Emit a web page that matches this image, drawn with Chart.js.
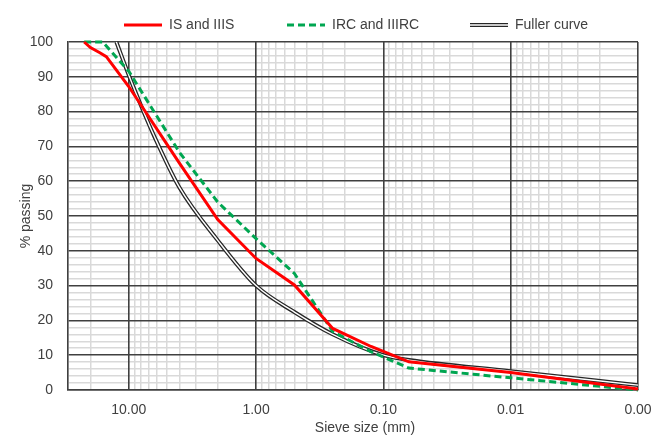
<!DOCTYPE html>
<html>
<head>
<meta charset="utf-8">
<script src="https://cdn.jsdelivr.net/npm/chart.js@4.4.1/dist/chart.umd.min.js"></script>
<style>
  html, body { margin: 0; padding: 0; background: #fff; }
  canvas { display: block; }
</style>
</head>
<body>
<canvas id="chart" width="654" height="435"></canvas>
<script>
// Sieve size (mm) vs % passing
const isSizes   = [22.4, 20, 17, 15, 10, 4, 2, 1, 0.5, 0.25, 0.125, 0.063, 0.01, 0.001];
const isPassing = [100, 98.4, 97, 95.8, 87.2, 65.2, 49, 37.8, 30.2, 17.7, 12.5, 8.1, 5, 0.3];

const ircSizes   = [22.4, 16, 10, 4, 2, 1, 0.5, 0.25, 0.125, 0.063, 0.01, 0.001];
const ircPassing = [100, 100, 91.6, 68.3, 54, 43.5, 33.5, 16.8, 11, 6.3, 3.5, 0];

const fullerSizes   = [12.5, 10, 8, 6.3, 4, 2, 1, 0.5, 0.25, 0.1, 0.063, 0.01, 0.001];
const fullerPassing = [100, 90.5, 81.7, 72.9, 58.2, 43, 30, 22.4, 16, 10, 8.6, 5.4, 1.4];

const seriesNames = ['IS and IIIS', 'IRC and IIIRC', 'Fuller curve'];

const majorTicks = [10, 1, 0.1, 0.01, 0.001];
const tickLabels = ['10.00', '1.00', '0.10', '0.01', '0.00'];
const xTitle = 'Sieve size (mm)';

const X_MIN = 0.001, X_MAX = 30;
const FONT = '"Liberation Sans", Arial, sans-serif';
const TEXT = '#404040';
const MAJOR = '#404040';
const MINOR = '#d9d9d9';

// log gridlines: 1..9 x each decade
const xTicks = [];
for (let e = -3; e <= 1; e++) {
  for (let m = 1; m <= 9; m++) {
    const v = Number((m * Math.pow(10, e)).toPrecision(3));
    if (v >= X_MIN && v <= X_MAX) xTicks.push(v);
  }
}

const isMajorX = v => majorTicks.includes(v);
const toPoints = (xs, ys) => xs.map((x, i) => ({ x, y: ys[i] }));

// legend drawn by hand so spacing matches the original
const legendSlots = [
  { x: 124, style: 'solid' },
  { x: 287, style: 'dash' },
  { x: 470, style: 'double' },
];

const legendPlugin = {
  id: 'sketchLegend',
  afterDraw(chart) {
    const ctx = chart.ctx;
    const y = 25, len = 38;
    ctx.save();
    ctx.font = '14px ' + FONT;
    ctx.fillStyle = TEXT;
    ctx.textBaseline = 'middle';
    legendSlots.forEach((slot, i) => {
      ctx.beginPath();
      ctx.moveTo(slot.x, y);
      ctx.lineTo(slot.x + len, y);
      if (slot.style === 'solid') {
        ctx.strokeStyle = '#ff0000'; ctx.lineWidth = 3; ctx.setLineDash([]);
        ctx.stroke();
      } else if (slot.style === 'dash') {
        ctx.strokeStyle = '#00a651'; ctx.lineWidth = 3; ctx.setLineDash([7, 4]);
        ctx.stroke();
      } else {
        ctx.setLineDash([]);
        ctx.strokeStyle = '#262626'; ctx.lineWidth = 4; ctx.stroke();
        ctx.strokeStyle = '#ffffff'; ctx.lineWidth = 1.4; ctx.stroke();
      }
      ctx.setLineDash([]);
      ctx.fillText(seriesNames[i], slot.x + len + 7, y);
    });
    // x title sits a little right of the plot centre in the original
    ctx.textAlign = 'center';
    ctx.fillText(xTitle, chart.chartArea.left + (chart.chartArea.right - chart.chartArea.left) / 2 + 12, 428);
    ctx.restore();
  }
};

Chart.defaults.font.family = FONT;
Chart.defaults.font.size = 14;
Chart.defaults.color = TEXT;

const logAxis = { type: 'logarithmic', reverse: true, min: X_MIN, max: X_MAX };

new Chart(document.getElementById('chart'), {
  type: 'line',
  data: {
    datasets: [
      {
        label: seriesNames[0],
        data: toPoints(isSizes, isPassing),
        borderColor: '#ff0000', borderWidth: 3,
        pointRadius: 0, fill: false, clip: false,
      },
      {
        label: seriesNames[1],
        data: toPoints(ircSizes, ircPassing),
        borderColor: '#00a651', borderWidth: 3, borderDash: [7, 4],
        pointRadius: 0, fill: false, clip: false,
      },
      {
        label: 'fuller-inner',
        data: toPoints(fullerSizes, fullerPassing),
        borderColor: '#ffffff', borderWidth: 1.4,
        cubicInterpolationMode: 'monotone',
        pointRadius: 0, fill: false, clip: false,
      },
      {
        label: seriesNames[2],
        data: toPoints(fullerSizes, fullerPassing),
        borderColor: '#262626', borderWidth: 4,
        cubicInterpolationMode: 'monotone',
        pointRadius: 0, fill: false, clip: false,
      },
    ]
  },
  options: {
    responsive: false,
    animation: false,
    layout: { padding: { top: 42, right: 16, left: 0, bottom: 0 } },
    plugins: { legend: { display: false }, tooltip: { enabled: false } },
    scales: {
      // labels + light minor verticals
      x: {
        ...logAxis,
        afterBuildTicks: s => { s.ticks = xTicks.map(v => ({ value: v })); },
        afterFit: s => { s.height = 45; },
        ticks: {
          autoSkip: false, maxRotation: 0, padding: 12,
          callback: v => { const i = majorTicks.indexOf(v); return i >= 0 ? tickLabels[i] : ''; }
        },
        grid: {
          drawTicks: false,
          color: c => isMajorX(c.tick.value) ? 'rgba(0,0,0,0)' : MINOR,
          lineWidth: 1.5,
        },
        border: { color: MAJOR, width: 1.6 },
        title: { display: false }
      },
      y: {
        min: 0, max: 100,
        afterFit: s => { s.width = 68; },
        ticks: {
          stepSize: 2, autoSkip: false, padding: 15,
          callback: v => v % 10 === 0 ? v : ''
        },
        grid: {
          drawTicks: false,
          color: c => c.tick.value % 10 === 0 ? MAJOR : MINOR,
          lineWidth: c => c.tick.value % 10 === 0 ? 1.6 : 1.5,
        },
        border: { color: MAJOR, width: 1.6 },
        title: { display: true, text: '% passing', padding: { top: 17.5, bottom: 0 } }
      },
      // dark decade verticals, drawn after the y grid so they stay unbroken
      xMajor: {
        ...logAxis,
        position: 'bottom',
        afterBuildTicks: s => { s.ticks = majorTicks.map(v => ({ value: v })); },
        afterFit: s => { s.height = 0; },
        ticks: { display: false },
        grid: { drawTicks: false, color: MAJOR, lineWidth: 1.6 },
        border: { display: false },
      }
    }
  },
  plugins: [legendPlugin]
});
</script>
</body>
</html>
